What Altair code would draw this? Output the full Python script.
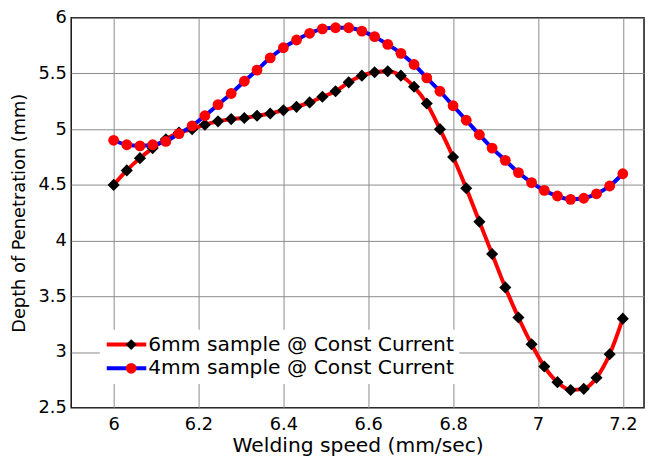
import altair as alt
import pandas as pd

S6 = "6mm sample @ Const Current"
S4 = "4mm sample @ Const Current"

speed = [6.000, 6.031, 6.062, 6.092, 6.123, 6.154, 6.185, 6.215, 6.246, 6.277,
         6.308, 6.338, 6.369, 6.400, 6.431, 6.462, 6.492, 6.523, 6.554, 6.585,
         6.615, 6.646, 6.677, 6.708, 6.738, 6.769, 6.800, 6.831, 6.862, 6.892,
         6.923, 6.954, 6.985, 7.015, 7.046, 7.077, 7.108, 7.138, 7.169, 7.200]

depth_6mm = [4.50, 4.63, 4.74, 4.83, 4.91, 4.97, 5.00, 5.04, 5.07, 5.09,
             5.10, 5.12, 5.14, 5.17, 5.20, 5.24, 5.29, 5.34, 5.42, 5.48,
             5.51, 5.52, 5.48, 5.38, 5.23, 5.00, 4.75, 4.47, 4.17, 3.88,
             3.58, 3.31, 3.07, 2.87, 2.73, 2.66, 2.67, 2.77, 2.98, 3.30]

depth_4mm = [4.90, 4.86, 4.85, 4.86, 4.89, 4.96, 5.03, 5.12, 5.22, 5.32,
             5.43, 5.53, 5.64, 5.73, 5.80, 5.86, 5.90, 5.91, 5.91, 5.88,
             5.83, 5.76, 5.68, 5.58, 5.46, 5.34, 5.21, 5.08, 4.95, 4.83,
             4.72, 4.61, 4.52, 4.45, 4.40, 4.37, 4.38, 4.42, 4.49, 4.60]

x_ticks = [6, 6.2, 6.4, 6.6, 6.8, 7, 7.2]
y_ticks = [2.5, 3, 3.5, 4, 4.5, 5, 5.5, 6]

rows = []
for sx, d6, d4 in zip(speed, depth_6mm, depth_4mm):
    rows.append({"speed": sx, "depth": d6, "series": S6, "marker": "m6"})
    rows.append({"speed": sx, "depth": d4, "series": S4, "marker": "m4"})
df = pd.DataFrame(rows)

FONT = "DejaVu Sans"
LEG_FS = 20.5

x_enc = alt.X("speed:Q",
              scale=alt.Scale(domain=[5.9, 7.25], nice=False, zero=False),
              axis=alt.Axis(values=x_ticks, format="~g", title="Welding speed (mm/sec)",
                            labelPadding=8, titlePadding=2, titleFontSize=20.5))
y_enc = alt.Y("depth:Q",
              scale=alt.Scale(domain=[2.5, 6], nice=False, zero=False),
              axis=alt.Axis(values=y_ticks, format="~g", title="Depth of Penetration (mm)",
                            labelPadding=5, titlePadding=10, titleFontSize=18))

line_color = alt.Color("series:N",
                       scale=alt.Scale(domain=[S6, S4], range=["#ff0000", "#0000ff"]),
                       legend=alt.Legend(title=None, orient="none", legendX=29, legendY=316,
                                         symbolType="stroke", symbolSize=1600, symbolStrokeWidth=4,
                                         labelFontSize=LEG_FS, labelFont=FONT, labelColor="black",
                                         labelOffset=0, rowPadding=3, padding=5, clipHeight=20,
                                         fillColor="white", labelLimit=400, zindex=0))

mk_legend = alt.Legend(title=None, orient="none", legendX=45.5, legendY=316,
                       symbolSize=120, symbolStrokeWidth=0,
                       labelFontSize=LEG_FS, labelFont=FONT, labelExpr="''",
                       labelOffset=0, rowPadding=3, padding=5, clipHeight=20, zindex=1)
mk_fill = alt.Fill("marker:N", scale=alt.Scale(domain=["m6", "m4"], range=["#000000", "#ff0000"]),
                   legend=mk_legend)
mk_shape = alt.Shape("marker:N", scale=alt.Scale(domain=["m6", "m4"], range=["diamond", "circle"]),
                     legend=mk_legend)

base = alt.Chart(df)

def line_layer(name):
    return base.transform_filter(alt.datum.series == name).mark_line(
        strokeWidth=4, interpolate="monotone").encode(x=x_enc, y=y_enc, color=line_color)

def pt_layer(name, size):
    return base.transform_filter(alt.datum.series == name).mark_point(
        filled=True, opacity=1, size=size, strokeWidth=0).encode(
        x=x_enc, y=y_enc, fill=mk_fill, shape=mk_shape)

chart = alt.layer(
    line_layer(S6), pt_layer(S6, 150),
    line_layer(S4), pt_layer(S4, 120),
).properties(
    width=580, height=395,
    background="white",
    autosize=alt.AutoSizeParams(type="none"),
    padding={"left": 64, "top": 7, "right": 2, "bottom": 46},
).configure_view(
    stroke="#111111", strokeWidth=1.5
).configure_axis(
    domain=False, ticks=False, grid=True, gridColor="#8a8a8a", gridWidth=1, gridOpacity=1,
    labelFont=FONT, labelFontSize=18, labelColor="black",
    titleFont=FONT, titleFontWeight="normal", titleColor="black",
)

chart.save("out.html", embed_options={"renderer": "svg", "actions": False})
